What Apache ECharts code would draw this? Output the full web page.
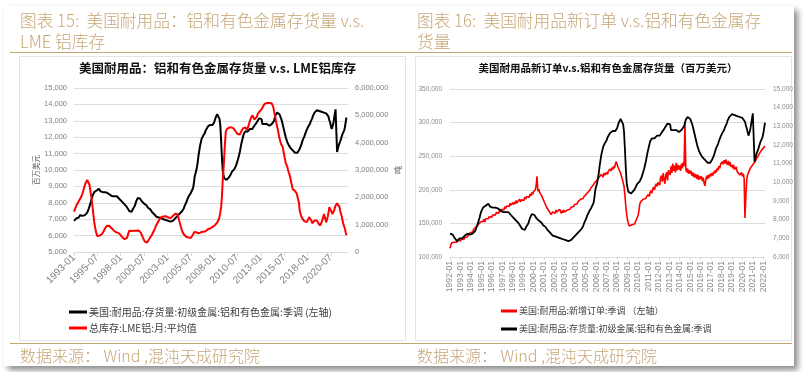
<!DOCTYPE html>
<html><head><meta charset="utf-8">
<script src="https://cdn.jsdelivr.net/npm/echarts@6/dist/echarts.min.js"></script>
<style>html,body{margin:0;padding:0;background:#fff}#c{width:807px;height:372px}</style>
</head><body><div id="c"></div>
<script>
// US durable goods inventories: primary metals, aluminum & nonferrous, SA (million USD), 1992-01 .. 2022-03
const inventory = [
7250,7200,7150,7200,7100,7050,7000,6950,6850,6900,6950,7000,
6900,6950,7000,7050,7100,7150,7100,7200,7250,7200,7250,7200,
7100,7200,7250,7300,7350,7400,7500,7650,7800,7950,8100,8300,
8450,8550,8650,8700,8700,8750,8800,8750,8850,8800,8700,8750,
8700,8650,8700,8600,8650,8600,8550,8600,8500,8550,8500,8450,
8450,8400,8500,8450,8400,8450,8500,8400,8350,8300,8250,8200,
8150,8100,8050,8000,7950,7900,7850,7800,7750,7650,7550,7500,
7450,7500,7450,7550,7650,7700,7800,7950,8100,8200,8300,8350,
8300,8250,8200,8100,8050,8000,7950,7900,7900,7850,7800,7700,
7750,7700,7600,7500,7450,7400,7350,7300,7250,7200,7150,7100,
7150,7100,7050,7100,7050,7000,7050,7000,6950,7000,6950,6900,
6950,6900,6950,6900,6850,6900,6850,6900,6950,7000,7050,7100,
7100,7200,7250,7300,7350,7400,7450,7500,7550,7650,7800,7900,
8000,8100,8250,8350,8450,8550,8600,8650,8700,8900,9200,9600,
9700,9950,10200,10500,10900,11200,11500,11700,11900,12000,12100,12200,
12250,12400,12500,12450,12650,12700,12600,12750,12700,12800,12750,12850,
12900,13000,13200,13300,13400,13450,13300,13100,12700,11800,10800,10000,
9700,9500,9450,9400,9400,9450,9500,9550,9600,9700,9800,9900,
9950,10000,10050,10150,10250,10400,10550,10700,10900,11100,11350,11600,
11800,12000,12200,12300,12350,12300,12400,12350,12450,12400,12500,12450,
12550,12500,12600,12650,12700,12750,12850,12900,13000,13050,13150,13200,
13250,13100,12800,12700,12750,12800,12850,12750,12800,12700,12750,12700,
12750,12700,12800,12750,12850,13000,13200,13350,13450,13500,13450,13400,
13400,13300,13150,13000,12800,12600,12400,12200,12000,11850,11700,11600,
11500,11450,11350,11300,11250,11200,11150,11100,11050,11000,10950,11050,
11150,11200,11300,11400,11550,11700,11850,11950,12050,12200,12300,12450,
12550,12650,12700,12800,12950,13050,13150,13300,13400,13500,13550,13600,
13650,13600,13550,13600,13550,13500,13550,13500,13450,13500,13450,13400,
13450,13400,13350,13250,13050,12900,12700,12500,12600,12800,13100,13400,
13700,13600,11100,11300,11500,11600,11750,11900,12050,12200,12300,12400,
12600,12900,13200
];
// LME aluminium total stocks, monthly average (tonnes), 1993-01 .. 2022-03
const lmeStock = [
1480e3,1550e3,1620e3,1700e3,1750e3,1800e3,1850e3,1900e3,1950e3,2000e3,2050e3,2150e3,
2250e3,2350e3,2450e3,2530e3,2600e3,2640e3,2620e3,2580e3,2450e3,2250e3,2050e3,1850e3,
1600e3,1350e3,1100e3,920e3,780e3,660e3,580e3,560e3,570e3,600e3,620e3,640e3,
660e3,700e3,760e3,820e3,870e3,920e3,950e3,960e3,970e3,960e3,940e3,910e3,
880e3,850e3,820e3,790e3,760e3,740e3,720e3,700e3,690e3,700e3,680e3,650e3,
620e3,580e3,540e3,510e3,490e3,470e3,450e3,470e3,520e3,600e3,700e3,780e3,
810e3,790e3,770e3,760e3,760e3,780e3,800e3,790e3,780e3,800e3,810e3,790e3,
810e3,780e3,700e3,620e3,560e3,500e3,450e3,380e3,340e3,330e3,350e3,400e3,
450e3,500e3,540e3,570e3,620e3,680e3,740e3,810e3,860e3,920e3,1000e3,1060e3,
1100e3,1150e3,1200e3,1250e3,1280e3,1300e3,1310e3,1300e3,1290e3,1300e3,1310e3,1290e3,
1280e3,1260e3,1240e3,1220e3,1240e3,1260e3,1290e3,1320e3,1350e3,1370e3,1400e3,1420e3,
1420e3,1380e3,1280e3,1150e3,1060e3,950e3,850e3,760e3,690e3,650e3,610e3,580e3,
560e3,550e3,540e3,530e3,520e3,510e3,510e3,520e3,560e3,640e3,720e3,760e3,
750e3,730e3,700e3,690e3,680e3,690e3,700e3,720e3,730e3,740e3,740e3,750e3,
750e3,760e3,780e3,800e3,830e3,850e3,840e3,860e3,880e3,900e3,920e3,940e3,
950e3,980e3,1000e3,1040e3,1080e3,1120e3,1200e3,1300e3,1450e3,1650e3,2000e3,2600e3,
3000e3,3500e3,4000e3,4400e3,4480e3,4520e3,4530e3,4550e3,4540e3,4560e3,4560e3,4560e3,
4550e3,4520e3,4480e3,4450e3,4400e3,4350e3,4320e3,4300e3,4280e3,4300e3,4350e3,4420e3,
4480e3,4520e3,4560e3,4580e3,4560e3,4500e3,4470e3,4500e3,4600e3,4700e3,4800e3,4880e3,
4950e3,5000e3,5070e3,4950e3,4850e3,4780e3,4850e3,4950e3,5050e3,5100e3,5130e3,5150e3,
5180e3,5220e3,5280e3,5330e3,5380e3,5420e3,5430e3,5440e3,5450e3,5460e3,5460e3,5450e3,
5450e3,5460e3,5440e3,5400e3,5310e3,5150e3,5000e3,4880e3,4720e3,4580e3,4460e3,4300e3,
4150e3,4050e3,3950e3,3900e3,3850e3,3700e3,3550e3,3400e3,3250e3,3180e3,3120e3,3000e3,
2900e3,2820e3,2700e3,2550e3,2420e3,2300e3,2270e3,2240e3,2230e3,2200e3,2150e3,2180e3,
2120e3,1800e3,1500e3,1400e3,1300e3,1250e3,1200e3,1150e3,1120e3,1080e3,1050e3,1100e3,
1150e3,1200e3,1280e3,1300e3,1250e3,1150e3,1050e3,1030e3,1080e3,1150e3,1200e3,1210e3,
1150e3,1100e3,1050e3,1000e3,970e3,1000e3,1080e3,1150e3,1250e3,1390e3,1300e3,1200e3,
1090e3,1150e3,1300e3,1450e3,1640e3,1600e3,1520e3,1450e3,1390e3,1420e3,1500e3,1600e3,
1700e3,1720e3,1780e3,1820e3,1760e3,1650e3,1500e3,1400e3,1300e3,1150e3,1020e3,940e3,
850e3,720e3,610e3
];
// US durable goods new orders, SA (million USD), 1992-01 .. 2022-03
const newOrders = [
113e3,118e3,121e3,119e3,123e3,122e3,121e3,124e3,122e3,125e3,123e3,126e3,
124e3,127e3,125e3,128e3,126e3,129e3,128e3,131e3,130e3,133e3,132e3,136e3,
135e3,138e3,137e3,141e3,140e3,143e3,145e3,144e3,147e3,149e3,148e3,152e3,
150e3,154e3,153e3,156e3,152e3,157e3,155e3,159e3,157e3,160e3,158e3,162e3,
159e3,163e3,161e3,165e3,162e3,166e3,164e3,168e3,165e3,170e3,167e3,171e3,
169e3,173e3,170e3,175e3,172e3,176e3,174e3,178e3,175e3,180e3,177e3,179e3,
181e3,178e3,182e3,179e3,184e3,180e3,183e3,181e3,186e3,182e3,185e3,183e3,
187e3,184e3,189e3,186e3,190e3,188e3,192e3,189e3,194e3,191e3,196e3,193e3,
197e3,195e3,200e3,206e3,220e3,198e3,201e3,196e3,195e3,192e3,189e3,186e3,
184e3,180e3,178e3,174e3,173e3,170e3,168e3,166e3,163e3,165e3,167e3,166e3,
168e3,165e3,170e3,167e3,169e3,166e3,171e3,168e3,165e3,169e3,166e3,170e3,
167e3,169e3,166e3,170e3,168e3,172e3,171e3,174e3,173e3,176e3,175e3,178e3,
177e3,180e3,179e3,182e3,181e3,184e3,186e3,185e3,188e3,187e3,190e3,192e3,
191e3,194e3,193e3,197e3,196e3,200e3,203e3,202e3,206e3,205e3,210e3,208e3,
213e3,215e3,212e3,218e3,220e3,217e3,223e3,221e3,219e3,225e3,222e3,224e3,
226e3,223e3,228e3,226e3,231e3,228e3,233e3,230e3,235e3,232e3,238e3,242e3,
238e3,234e3,231e3,229e3,225e3,220e3,216e3,211e3,205e3,192e3,176e3,164e3,
155e3,150e3,146e3,145e3,147e3,148e3,146e3,150e3,149e3,152e3,155e3,158e3,
161e3,168e3,178e3,182e3,184e3,183e3,186e3,185e3,188e3,187e3,190e3,189e3,
193e3,190e3,196e3,199e3,195e3,201e3,204e3,200e3,206e3,209e3,205e3,211e3,
213e3,207e3,218e3,221e3,212e3,225e3,216e3,209e3,222e3,226e3,214e3,229e3,
231e3,222e3,235e3,225e3,239e3,228e3,236e3,226e3,240e3,229e3,237e3,230e3,
236e3,228e3,239e3,232e3,241e3,235e3,301e3,231e3,226e3,232e3,224e3,229e3,
224e3,228e3,221e3,226e3,219e3,224e3,218e3,223e3,216e3,222e3,215e3,220e3,
216e3,220e3,213e3,218e3,210e3,206e3,215e3,221e3,216e3,222e3,218e3,224e3,
220e3,225e3,221e3,227e3,224e3,229e3,226e3,232e3,229e3,235e3,232e3,238e3,
238e3,242e3,238e3,244e3,239e3,245e3,240e3,237e3,243e3,236e3,241e3,234e3,
237e3,232e3,237e3,230e3,231e3,234e3,227e3,225e3,229e3,222e3,223e3,226e3,
220e3,224e3,217e3,158e3,190e3,215e3,222e3,226e3,229e3,231e3,234e3,236e3,
236e3,239e3,241e3,243e3,246e3,248e3,250e3,252e3,255e3,257e3,259e3,261e3,
262e3,264e3,265e3
];

function monthCats(y, m, count) {
  const out = [];
  for (let i = 0; i < count; i++) {
    out.push(y + '-' + String(m).padStart(2, '0'));
    m++; if (m > 12) { m = 1; y++; }
  }
  return out;
}
const cats1 = monthCats(1993, 1, 353); // 1993-01 .. 2022-05
const cats2 = monthCats(1992, 1, 363); // 1992-01 .. 2022-03

const name1a = '美国:耐用品:存货量:初级金属:铝和有色金属:季调 (左轴)';
const name1b = '总库存:LME铝:月:平均值';
const name2a = '美国:耐用品:新增订单:季调 （左轴）';
const name2b = '美国:耐用品:存货量:初级金属:铝和有色金属:季调';

const gold = '#c6a677';
const cjk = '"Noto Sans CJK SC", sans-serif';
const num = '"Liberation Sans", Arial, sans-serif';
const fmt = v => Number(v).toLocaleString('en-US');
const grid = '#dcdcdc';

const chart = echarts.init(document.getElementById('c'));
chart.setOption({
  animation: false,
  backgroundColor: '#ffffff',
  graphic: [
    { type: 'rect', z: -10, shape: { x: 4, y: 6, width: 790, height: 360 },
      style: { fill: '#fff', shadowBlur: 6, shadowColor: 'rgba(0,0,0,0.45)', shadowOffsetX: 4, shadowOffsetY: 4 } },
    { type: 'rect', z: -9, shape: { x: 19.5, y: 56.5, width: 386, height: 284 }, style: { fill: 'none', stroke: '#e4e4e4', lineWidth: 1 } },
    { type: 'rect', z: -9, shape: { x: 415.5, y: 56.5, width: 376, height: 284 }, style: { fill: 'none', stroke: '#e4e4e4', lineWidth: 1 } },
    { type: 'line', shape: { x1: 10, y1: 52.5, x2: 792, y2: 52.5 }, style: { stroke: gold, lineWidth: 1.2 } },
    { type: 'line', shape: { x1: 10, y1: 343.5, x2: 792, y2: 343.5 }, style: { stroke: gold, lineWidth: 1.2 } },
    { type: 'text', style: { text: '图表 15:  美国耐用品：铝和有色金属存货量 v.s.', x: 20, y: 21, textVerticalAlign: 'middle', font: '300 16.7px ' + cjk, fill: gold } },
    { type: 'text', style: { text: 'LME 铝库存', x: 20, y: 41.5, textVerticalAlign: 'middle', font: '300 16.7px ' + cjk, fill: gold } },
    { type: 'text', style: { text: '图表 16:  美国耐用品新订单 v.s.铝和有色金属存', x: 417, y: 21, textVerticalAlign: 'middle', font: '300 16.7px ' + cjk, fill: gold } },
    { type: 'text', style: { text: '货量', x: 417, y: 41.5, textVerticalAlign: 'middle', font: '300 16.7px ' + cjk, fill: gold } },
    { type: 'text', style: { text: '数据来源： Wind ,混沌天成研究院', x: 20, y: 355.5, textVerticalAlign: 'middle', font: '300 16px ' + cjk, fill: gold } },
    { type: 'text', style: { text: '数据来源： Wind ,混沌天成研究院', x: 417, y: 355.5, textVerticalAlign: 'middle', font: '300 16px ' + cjk, fill: gold } },
    { type: 'text', style: { text: '美国耐用品：铝和有色金属存货量 v.s. LME铝库存', x: 217.5, y: 68.5, textAlign: 'center', textVerticalAlign: 'middle', font: 'bold 12.5px ' + cjk, fill: '#111' } },
    { type: 'text', style: { text: '美国耐用品新订单v.s.铝和有色金属存货量（百万美元）', x: 608, y: 68.5, textAlign: 'center', textVerticalAlign: 'middle', font: 'bold 10.5px ' + cjk, fill: '#111' } }
  ],
  legend: [
    { orient: 'vertical', left: 64, top: 302, itemWidth: 18, itemHeight: 3, itemGap: 6, icon: 'rect',
      data: [name1a, name1b], textStyle: { fontSize: 10, color: '#404040', fontFamily: cjk, padding: [0, 0, 0, -3] } },
    { orient: 'vertical', left: 496, top: 301.5, itemWidth: 16, itemHeight: 3, itemGap: 9, icon: 'rect',
      data: [name2a, name2b], textStyle: { fontSize: 9, color: '#404040', fontFamily: cjk, padding: [0, 0, 0, -3] } }
  ],
  grid: [
    { left: 74, top: 88, width: 274, height: 164 },
    { left: 450, top: 89, width: 315, height: 168 }
  ],
  xAxis: [
    { type: 'category', gridIndex: 0, data: cats1, boundaryGap: false,
      axisLine: { lineStyle: { color: grid } },
      axisTick: { show: true, interval: 29, length: 4, lineStyle: { color: grid } },
      axisLabel: { interval: 29, rotate: 45, fontSize: 10, color: '#808080', fontFamily: num, margin: 4 } },
    { type: 'category', gridIndex: 1, data: cats2, boundaryGap: false,
      axisLine: { lineStyle: { color: grid } },
      axisTick: { show: true, interval: 11, length: 3, lineStyle: { color: grid } },
      axisLabel: { interval: 11, rotate: 90, fontSize: 8.5, color: '#8c8c8c', fontFamily: num, margin: 4 } }
  ],
  yAxis: [
    { type: 'value', gridIndex: 0, min: 5000, max: 15000, interval: 1000,
      axisLine: { show: false }, axisTick: { show: false },
      splitLine: { lineStyle: { color: grid } },
      axisLabel: { formatter: fmt, fontSize: 7.5, color: '#808080', fontFamily: num, margin: 7 },
      name: '百万美元', nameLocation: 'middle', nameGap: 34, nameRotate: 90,
      nameTextStyle: { fontSize: 7.5, color: '#666', fontFamily: cjk } },
    { type: 'value', gridIndex: 0, position: 'right', min: 0, max: 6000000, interval: 1000000,
      axisLine: { show: false }, axisTick: { show: false }, splitLine: { show: false },
      axisLabel: { formatter: fmt, fontSize: 7.5, color: '#808080', fontFamily: num, margin: 7 },
      name: '吨', nameLocation: 'middle', nameGap: 46, nameRotate: 90,
      nameTextStyle: { fontSize: 8, color: '#666', fontFamily: cjk } },
    { type: 'value', gridIndex: 1, min: 100000, max: 350000, interval: 50000,
      axisLine: { show: false }, axisTick: { show: false },
      splitLine: { lineStyle: { color: grid } },
      axisLabel: { formatter: fmt, fontSize: 6.5, color: '#8c8c8c', fontFamily: num, margin: 8 } },
    { type: 'value', gridIndex: 1, position: 'right', min: 6000, max: 15000, interval: 1000,
      axisLine: { show: false }, axisTick: { show: false }, splitLine: { show: false },
      axisLabel: { formatter: fmt, fontSize: 6.5, color: '#8c8c8c', fontFamily: num, margin: 8 } }
  ],
  series: [
    { name: name1a, type: 'line', xAxisIndex: 0, yAxisIndex: 0, data: inventory.slice(12),
      showSymbol: false, color: '#000000', lineStyle: { color: '#000000', width: 2 } },
    { name: name1b, type: 'line', xAxisIndex: 0, yAxisIndex: 1, data: lmeStock,
      showSymbol: false, color: '#ff0000', lineStyle: { color: '#ff0000', width: 2 } },
    { name: name2a, type: 'line', xAxisIndex: 1, yAxisIndex: 2, data: newOrders,
      showSymbol: false, color: '#ff0000', lineStyle: { color: '#ff0000', width: 1.6 } },
    { name: name2b, type: 'line', xAxisIndex: 1, yAxisIndex: 3, data: inventory,
      showSymbol: false, color: '#000000', lineStyle: { color: '#000000', width: 1.8 } }
  ]
});
</script>
</body></html>
